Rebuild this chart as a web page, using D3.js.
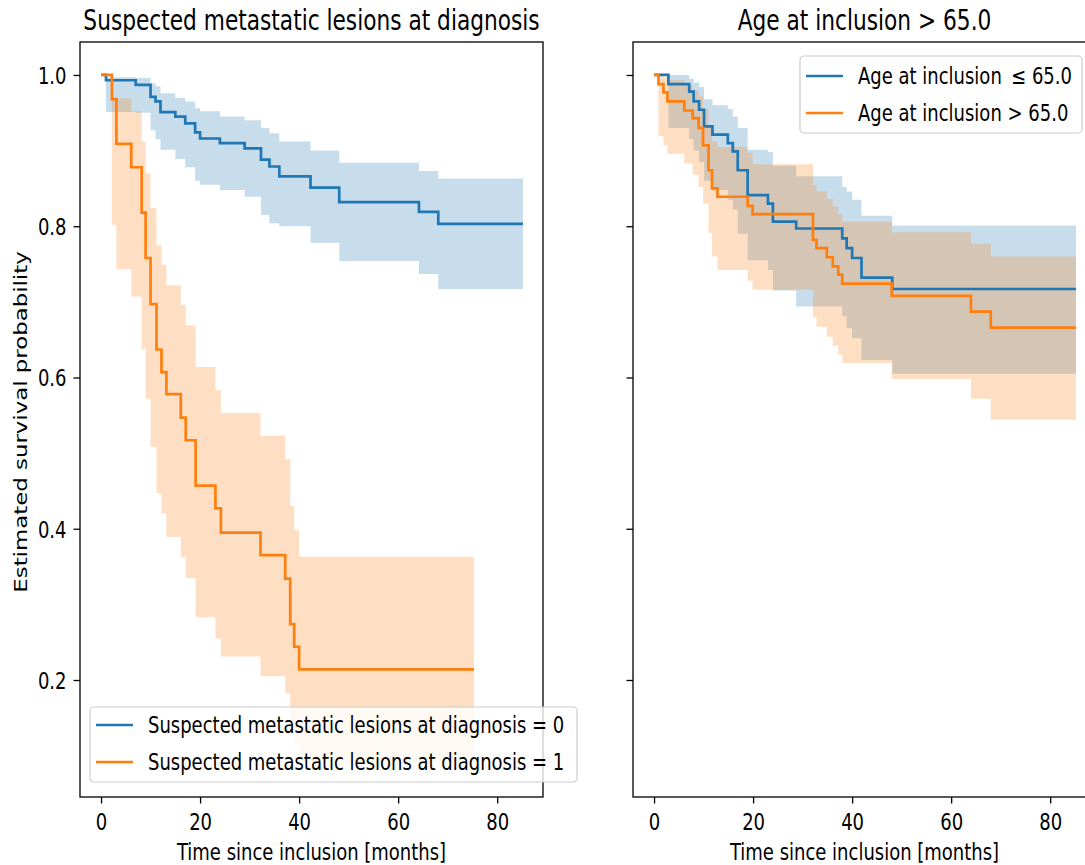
<!DOCTYPE html>
<html lang="en">
<head>
    <meta charset="UTF-8"/>
    <title>Kaplan-Meier</title>
    <script src="https://d3js.org/d3.v7.min.js"></script>
    <style>
        body { margin: 0; background: #fff; }
        text { font-family: "DejaVu Sans", sans-serif; fill: #000; }
        .axis path, .axis line { stroke: #000; stroke-width: 1.3; }
        .axis text { font-size: 18px; }
    </style>
</head>
<body></body>
<script type="text/javascript">
    // --- data ---
    // left panel: suspected metastatic lesions = 0
    let metaT0 = [0, 1, 7, 10, 11, 12, 15, 17, 19, 20, 24, 29, 32.3, 34, 36, 42.3, 48.1, 64.2, 68.1, 85.2];
    let metaS0 = [1, .993, .987, .971, .965, .951, .945, .936, .924, .916, .910, .903, .888, .879, .866, .851, .832, .819, .803, .803];
    let metaU0 = [1, .997, .996, .989, .985, .976, .970, .965, .956, .952, .945, .940, .930, .923, .912, .900, .884, .873, .863, .863];
    let metaL0 = [1, .951, .950, .927, .915, .901, .889, .878, .860, .855, .848, .839, .815, .804, .800, .778, .754, .737, .717, .717];
    // suspected metastatic lesions = 1
    let metaT1 = [0, 2.2, 3.1, 6.1, 8.2, 9.0, 10.0, 11.2, 12.2, 13.2, 16.1, 17.1, 19.1, 23.1, 24.2, 32.2, 37.2, 38.2, 39.0, 40.0, 75.3];
    let metaS1 = [1, .968, .909, .878, .818, .758, .697, .637, .607, .578, .547, .517, .457, .427, .395, .365, .334, .274, .244, .214, .214];
    let metaU1 = [1, .969, .969, .952, .912, .870, .824, .775, .749, .722, .696, .669, .614, .583, .553, .523, .492, .430, .398, .363, .363];
    let metaL1 = [1, .802, .743, .707, .638, .572, .508, .447, .420, .389, .363, .335, .283, .255, .231, .205, .182, .140, .115, .091, .091];

    // right panel: age at inclusion <= 65
    let ageT0 = [0, 2.9, 7.1, 8, 9.1, 10.1, 11.8, 14.9, 15.9, 16.9, 18.9, 23, 24, 28.7, 38, 38.9, 40, 41.9, 48.1, 85.2];
    let ageS0 = [1, .988, .978, .965, .954, .932, .921, .910, .899, .874, .841, .830, .806, .797, .784, .771, .758, .732, .717, .717];
    let ageU0 = [1, 1, .995, .990, .984, .968, .960, .955, .945, .930, .901, .898, .880, .866, .852, .846, .835, .814, .801, .801];
    let ageL0 = [1, .930, .915, .900, .885, .860, .848, .835, .822, .790, .755, .742, .715, .694, .681, .665, .652, .623, .605, .605];
    // age at inclusion > 65
    let ageT1 = [0, 0.9, 1.9, 2.7, 6.1, 7.8, 9.0, 9.9, 11.0, 11.7, 12.8, 18.9, 19.9, 32.1, 32.8, 34.9, 36.1, 37.2, 38, 48, 64, 68, 85.2];
    let ageS1 = [1, .988, .977, .965, .953, .943, .930, .907, .874, .850, .839, .827, .816, .782, .771, .759, .747, .736, .724, .708, .687, .666, .666];
    let ageU1 = [1, 1, .997, .993, .987, .980, .972, .955, .932, .912, .905, .897, .882, .855, .846, .836, .826, .816, .806, .792, .777, .760, .760];
    let ageL1 = [1, .919, .907, .896, .883, .868, .852, .830, .791, .760, .742, .728, .716, .680, .667, .654, .642, .630, .619, .598, .572, .544, .544];

    let xTicks = [0, 20, 40, 60, 80];
    let yTicks = [0.2, 0.4, 0.6, 0.8, 1.0];

    let titles = ["Suspected metastatic lesions at diagnosis", "Age at inclusion > 65.0"];
    let labelsMeta = ["Suspected metastatic lesions at diagnosis = 0", "Suspected metastatic lesions at diagnosis = 1"];
    let labelsAge = ["Age at inclusion \u2009\u2264 65.0", "Age at inclusion > 65.0"];
    let colors = ["#1f77b4", "#ff7f0e"];

    // --- layout ---
    let width = 1085, height = 865;
    let plotTop = 42, plotBottom = 797;
    let stretch = 1.27; // the picture is taller than wide, glyphs too
    let panels = [
        {left: 80, right: 543},
        {left: 633, right: 1096}
    ];

    let svg = d3.select("body").append("svg")
        .attr("width", width)
        .attr("height", height);

    let scaleY = d3.scaleLinear()
        .domain([0.0453, 1.0436])
        .range([plotBottom, plotTop]);

    function makeSeries(t, s, u, l) {
        return t.map((d, i) => ({t: d, s: s[i], u: u[i], l: l[i]}));
    }

    // put a text at (x, y) baseline and stretch it vertically
    function place(sel, x, y) {
        return sel.attr("x", 0).attr("y", 0).attr("dy", null)
            .attr("transform", "translate(" + x + "," + y + ") scale(1," + stretch + ")");
    }

    let groups = [
        [makeSeries(metaT0, metaS0, metaU0, metaL0), makeSeries(metaT1, metaS1, metaU1, metaL1)],
        [makeSeries(ageT0, ageS0, ageU0, ageL0), makeSeries(ageT1, ageS1, ageU1, ageL1)]
    ];
    let legends = [labelsMeta, labelsAge];

    panels.forEach(function(p, k) {
        let scaleX = d3.scaleLinear()
            .domain([-4.25, 89.25])
            .range([p.left, p.right]);

        let g = svg.append("g");
        let clipId = "clip" + k;
        svg.append("clipPath").attr("id", clipId)
            .append("rect")
            .attr("x", p.left).attr("y", plotTop)
            .attr("width", p.right - p.left).attr("height", plotBottom - plotTop);

        let plot = g.append("g").attr("clip-path", "url(#" + clipId + ")");

        let area = d3.area()
            .curve(d3.curveStepAfter)
            .x(d => scaleX(d.t))
            .y0(d => scaleY(d.l))
            .y1(d => scaleY(d.u));
        let line = d3.line()
            .curve(d3.curveStepAfter)
            .x(d => scaleX(d.t))
            .y(d => scaleY(d.s));

        groups[k].forEach(function(data, i) {
            plot.append("path")
                .attr("d", area(data))
                .style("fill", colors[i])
                .style("fill-opacity", 0.25)
                .style("stroke", "none");
        });
        groups[k].forEach(function(data, i) {
            plot.append("path")
                .attr("d", line(data))
                .style("fill", "none")
                .style("stroke", colors[i])
                .style("stroke-width", 2.7);
        });

        // axes
        let xAxis = d3.axisBottom(scaleX).tickValues(xTicks).tickSize(6.5)
            .tickFormat(d3.format("d"));
        let yAxis = d3.axisLeft(scaleY).tickValues(yTicks).tickSize(6.5)
            .tickFormat(k === 0 ? d3.format(".1f") : () => "");

        g.append("g").attr("class", "axis")
            .attr("transform", "translate(0," + plotBottom + ")")
            .call(xAxis)
            .call(a => a.select(".domain").remove())
            .call(a => place(a.selectAll(".tick text"), 0, 33));
        g.append("g").attr("class", "axis")
            .attr("transform", "translate(" + p.left + ",0)")
            .call(yAxis)
            .call(a => a.select(".domain").remove())
            .call(a => place(a.selectAll(".tick text"), -13.5, 8.3));

        // frame
        g.append("rect")
            .attr("x", p.left).attr("y", plotTop)
            .attr("width", p.right - p.left).attr("height", plotBottom - plotTop)
            .style("fill", "none").style("stroke", "#000").style("stroke-width", 1.3);

        place(g.append("text"), (p.left + p.right) / 2, 30)
            .attr("text-anchor", "middle")
            .style("font-size", "21.7px")
            .text(titles[k]);

        place(g.append("text"), (p.left + p.right) / 2, 860)
            .attr("text-anchor", "middle")
            .style("font-size", "18px")
            .text("Time since inclusion [months]");

        // legend
        let lg = k === 0
            ? {x: 90, y: 707, w: 487, h: 75}
            : {x: 800, y: 56, w: 282, h: 77};
        let leg = g.append("g");
        leg.append("rect")
            .attr("x", lg.x).attr("y", lg.y).attr("width", lg.w).attr("height", lg.h)
            .attr("rx", 4)
            .style("fill", "#fff").style("fill-opacity", 0.8)
            .style("stroke", "#ccc").style("stroke-width", 1.2);
        legends[k].forEach(function(label, i) {
            let cy = lg.y + (k === 0 ? 18 : 20) + i * 37;
            leg.append("line")
                .attr("x1", lg.x + 6).attr("x2", lg.x + 43)
                .attr("y1", cy).attr("y2", cy)
                .style("stroke", colors[i]).style("stroke-width", 2.7);
            place(leg.append("text"), lg.x + 58, cy + 8.3)
                .style("font-size", "18px")
                .style("white-space", "pre")
                .text(label);
        });
    });

    svg.append("text")
        .attr("transform", "translate(27,422) scale(1," + stretch + ") rotate(-90)")
        .attr("text-anchor", "middle")
        .style("font-size", "18px")
        .text("Estimated survival probability");
</script>
</html>
